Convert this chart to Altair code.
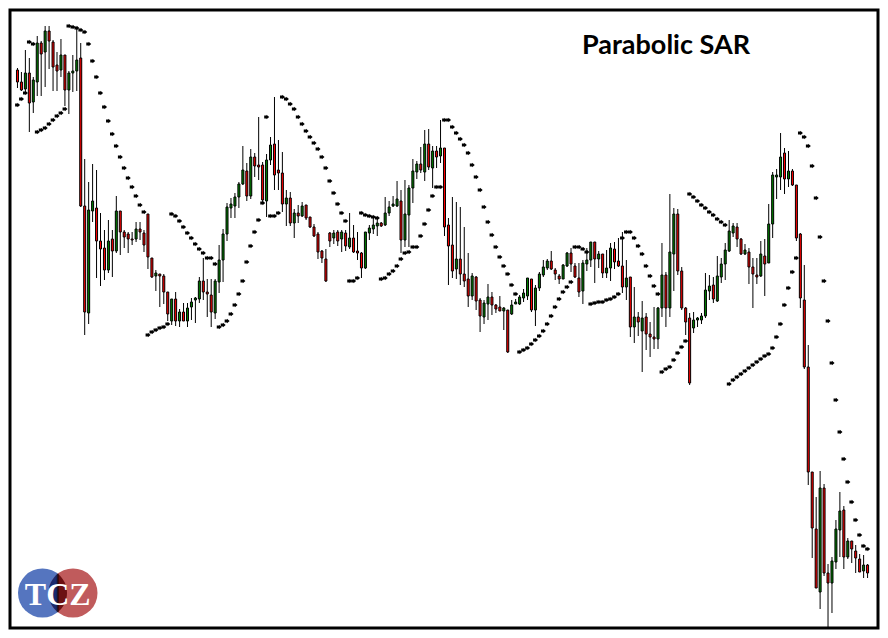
import altair as alt
import pandas as pd

# Price levels (pixel-like units, larger = lower price)
opens = [70, 82, 89, 73, 102, 82, 43, 52, 31, 42,
         65, 70, 55, 90, 73, 71, 58, 206, 313, 211,
         208, 241, 248, 270, 239, 251, 211, 232, 234, 239,
         239, 229, 233, 214, 258, 276, 274, 276, 292, 321,
         299, 321, 312, 321, 307, 300, 299, 281, 292, 295,
         313, 282, 260, 234, 208, 206, 197, 184, 171, 196,
         157, 165, 165, 201, 160, 144, 170, 173, 204, 198,
         223, 213, 216, 205, 217, 227, 234, 251, 259, 233,
         238, 232, 239, 233, 247, 238, 251, 253, 268, 233,
         229, 226, 223, 225, 213, 206, 206, 201, 240, 215,
         188, 172, 164, 172, 144, 168, 151, 156, 148, 225,
         245, 269, 259, 274, 279, 296, 277, 300, 317, 304,
         297, 305, 307, 311, 310, 314, 304, 304, 298, 296,
         279, 310, 288, 275, 268, 261, 270, 276, 279, 266,
         253, 266, 278, 291, 264, 260, 242, 259, 254, 273,
         268, 249, 261, 266, 287, 277, 327, 317, 331, 317,
         334, 337, 339, 308, 275, 308, 254, 214, 271, 308,
         318, 328, 320, 320, 316, 291, 285, 301, 277, 264,
         251, 233, 227, 239, 254, 252, 267, 275, 276, 256,
         263, 224, 177, 177, 153, 179, 171, 185, 234, 300,
         367, 472, 529, 592, 488, 573, 583, 562, 530, 510,
         557, 541, 551, 559, 571, 565]

highs = [68, 72, 50, 58, 77, 36, 41, 26, 26, 40,
         52, 39, 55, 71, 55, 29, 43, 159, 182, 164,
         170, 213, 230, 220, 230, 196, 211, 230, 232, 232,
         222, 222, 230, 214, 258, 270, 274, 274, 292, 299,
         292, 309, 303, 303, 298, 297, 277, 258, 279, 279,
         279, 245, 229, 203, 198, 193, 182, 146, 163, 149,
         153, 117, 162, 154, 137, 97, 140, 152, 190, 192,
         209, 205, 202, 205, 217, 224, 232, 250, 249, 232,
         230, 230, 230, 230, 213, 225, 232, 252, 232, 225,
         218, 217, 222, 197, 201, 196, 181, 190, 180, 185,
         159, 161, 147, 130, 129, 146, 146, 120, 148, 218,
         197, 202, 207, 227, 253, 273, 276, 298, 300, 284,
         292, 304, 296, 307, 310, 300, 299, 295, 289, 278,
         279, 285, 272, 260, 259, 251, 268, 274, 264, 252,
         248, 263, 263, 260, 248, 242, 242, 251, 254, 250,
         243, 242, 238, 232, 260, 277, 287, 312, 301, 313,
         322, 307, 307, 243, 272, 194, 208, 209, 267, 307,
         313, 312, 317, 313, 273, 275, 277, 256, 258, 243,
         220, 223, 223, 238, 244, 248, 258, 258, 241, 239,
         204, 172, 169, 133, 148, 151, 169, 185, 233, 265,
         345, 472, 497, 471, 484, 564, 557, 520, 492, 506,
         538, 541, 545, 554, 555, 564]

lows = [88, 91, 93, 132, 113, 96, 96, 87, 69, 91,
        91, 77, 106, 114, 92, 91, 207, 335, 324, 222,
        278, 286, 280, 273, 277, 253, 255, 248, 253, 245,
        242, 240, 252, 269, 278, 291, 307, 304, 321, 325,
        326, 327, 321, 327, 320, 323, 303, 300, 317, 327,
        319, 293, 282, 241, 218, 218, 208, 185, 201, 199,
        177, 180, 204, 217, 165, 190, 190, 212, 226, 226,
        238, 223, 217, 220, 228, 237, 259, 263, 282, 247,
        244, 246, 252, 251, 249, 253, 260, 278, 269, 240,
        234, 236, 227, 226, 216, 207, 207, 253, 247, 247,
        203, 179, 173, 181, 170, 188, 168, 163, 236, 285,
        278, 279, 285, 287, 307, 300, 310, 332, 324, 320,
        315, 313, 311, 330, 353, 315, 304, 305, 302, 300,
        312, 326, 291, 277, 270, 270, 280, 284, 279, 267,
        272, 278, 297, 304, 271, 267, 283, 268, 278, 278,
        281, 269, 267, 293, 300, 337, 343, 336, 372, 350,
        357, 349, 349, 317, 327, 317, 291, 275, 310, 335,
        385, 333, 327, 324, 318, 300, 303, 302, 283, 280,
        252, 237, 247, 255, 255, 284, 308, 284, 277, 296,
        263, 238, 199, 190, 194, 187, 186, 241, 308, 369,
        485, 558, 588, 609, 576, 627, 613, 569, 557, 569,
        559, 563, 573, 572, 578, 578]

closes = [82, 90, 73, 103, 80, 43, 54, 31, 41, 67,
          71, 55, 90, 73, 71, 60, 206, 312, 210, 201,
          241, 249, 270, 241, 251, 211, 232, 237, 239, 240,
          229, 232, 245, 257, 277, 273, 276, 292, 314, 299,
          321, 312, 321, 308, 302, 298, 281, 292, 294, 312,
          281, 260, 234, 207, 204, 197, 184, 170, 196, 157,
          166, 167, 200, 160, 145, 175, 173, 204, 198, 223,
          213, 216, 206, 218, 227, 236, 252, 258, 281, 241,
          233, 241, 232, 246, 238, 252, 253, 268, 232, 228,
          225, 223, 226, 213, 207, 204, 199, 240, 214, 188,
          171, 164, 170, 144, 167, 151, 157, 148, 227, 246,
          271, 259, 274, 281, 296, 276, 301, 316, 303, 297,
          305, 309, 311, 308, 352, 305, 302, 297, 293, 278,
          310, 288, 274, 267, 261, 269, 274, 279, 265, 253,
          264, 277, 292, 263, 260, 242, 259, 254, 273, 268,
          248, 262, 266, 287, 278, 327, 317, 322, 318, 334,
          337, 339, 308, 275, 308, 252, 214, 271, 308, 322,
          383, 320, 318, 316, 290, 286, 299, 276, 264, 250,
          231, 226, 239, 254, 250, 267, 274, 277, 254, 264,
          224, 175, 175, 157, 179, 171, 185, 238, 298, 367,
          472, 528, 588, 488, 573, 583, 561, 529, 511, 557,
          541, 549, 558, 572, 565, 573]

sar = [105, 99, 93, 42, 44, 132, 130, 128, 124, 120,
       116, 113, 109, 26, 27, 28, 30, 32, 44, 61,
       77, 93, 107, 121, 134, 146, 157, 168, 178, 187,
       196, 205, 212, 335, 332, 330, 328, 327, 324, 214,
       216, 221, 227, 233, 238, 244, 249, 253, 258, 258,
       264, 327, 325, 321, 314, 305, 294, 281, 262, 246,
       232, 220, 203, 117, 216, 216, 213, 97, 99, 104,
       109, 117, 124, 131, 137, 143, 149, 157, 168, 181,
       193, 204, 213, 221, 281, 281, 278, 213, 215, 216,
       217, 218, 279, 278, 274, 271, 266, 259, 253, 252,
       247, 247, 236, 224, 210, 196, 187, 187, 120, 120,
       127, 133, 139, 145, 153, 165, 177, 190, 207, 222,
       235, 247, 257, 266, 274, 285, 294, 352, 350, 348,
       344, 340, 336, 331, 324, 316, 307, 299, 292, 287,
       282, 247, 247, 249, 252, 304, 303, 302, 302, 300,
       299, 297, 294, 238, 232, 232, 238, 246, 254, 266,
       276, 286, 294, 372, 369, 367, 360, 353, 347, 341,
       194, 197, 201, 205, 208, 212, 215, 219, 222, 225,
       384, 380, 377, 374, 371, 368, 365, 362, 359, 356,
       354, 348, 337, 324, 305, 288, 272, 258, 133, 137,
       146, 166, 198, 237, 281, 321, 363, 400, 432, 459,
       482, 502, 520, 535, 546, 549]

title_text = ["Parabolic SAR"]
logo_text = ["TCZ"]

n = len(opens)
df = pd.DataFrame({
    "i": list(range(n)),
    "open": opens, "high": highs, "low": lows, "close": closes, "sar": sar,
})
df["dir"] = ["up" if c < o else "down" for o, c in zip(opens, closes)]

W, H = 868, 618
xs = alt.X("i:Q", scale=alt.Scale(domain=[-0.625, 216.375], nice=False, zero=False), axis=None)
ysc = alt.Scale(domain=[10, 628], reverse=True, nice=False, zero=False)

base = alt.Chart(df)
wicks = base.mark_rule(color="black", strokeWidth=1).encode(
    x=xs, y=alt.Y("high:Q", scale=ysc, axis=None), y2="low:Q")
bodies = base.mark_bar(width=2, stroke="black", strokeWidth=1).encode(
    x=xs, y=alt.Y("open:Q", scale=ysc, axis=None), y2="close:Q",
    color=alt.Color("dir:N", scale=alt.Scale(domain=["up", "down"], range=["#008000", "#ff0000"]), legend=None))
dots = base.mark_point(filled=True, shape="M-2,-1.3L0,-1.3L0,-2L2.2,0L0,2L0,1.3L-2,1.3Z", size=5.6,
                       color="black", opacity=1).encode(
    x=xs, y=alt.Y("sar:Q", scale=ysc, axis=None))

tdf = pd.DataFrame({"t": title_text})
title = alt.Chart(tdf).mark_text(font="Lato", fontSize=27, fontWeight="bold", color="black",
                                 align="center", baseline="alphabetic").encode(
    x=alt.value(656), y=alt.value(44), text="t:N")

# logo (view coordinates)
lx, ly = 47.75, 583.0
r, d = 24.5, 15.25
h = (r * r - d * d) ** 0.5
one = pd.DataFrame({"t": logo_text})
left_c = alt.Chart(one).mark_point(shape="circle", filled=True, size=(2 * r) ** 2, color="#5575bf", opacity=1).encode(
    x=alt.value(lx - d), y=alt.value(ly))
right_c = alt.Chart(one).mark_point(shape="circle", filled=True, size=(2 * r) ** 2, color="#c05b5c", opacity=1).encode(
    x=alt.value(lx + d), y=alt.value(ly))
navy = alt.Chart(one).mark_point(shape=f"M0,{-h:.2f}A{r},{r} 0 0 0 0,{h:.2f}Z", filled=True, size=4,
                                 color="#1b2a6e", opacity=1).encode(x=alt.value(lx), y=alt.value(ly))
maroon = alt.Chart(one).mark_point(shape=f"M0,{-h:.2f}A{r},{r} 0 0 1 0,{h:.2f}Z", filled=True, size=4,
                                   color="#6b1012", opacity=1).encode(x=alt.value(lx), y=alt.value(ly))
strip = alt.Chart(one).mark_point(shape=f"M-1,{-h:.2f}L1,{-h:.2f}L1,{h:.2f}L-1,{h:.2f}Z", filled=True, size=4,
                                  color="black", opacity=0.55).encode(x=alt.value(lx), y=alt.value(ly))
ltext = alt.Chart(one).mark_text(font="Liberation Serif", fontSize=32, fontWeight="bold", color="white",
                                 align="center", baseline="alphabetic").encode(
    x=alt.value(lx), y=alt.value(ly + 12), text="t:N")

chart = alt.layer(wicks, bodies, dots, left_c, right_c, navy, maroon, strip, ltext, title).properties(
    width=W, height=H, padding=2, autosize=alt.AutoSizeParams(type="none"), background="white"
).configure_view(stroke="black", strokeWidth=3)

chart.save("out.html", embed_options={"renderer": "svg", "actions": False})
